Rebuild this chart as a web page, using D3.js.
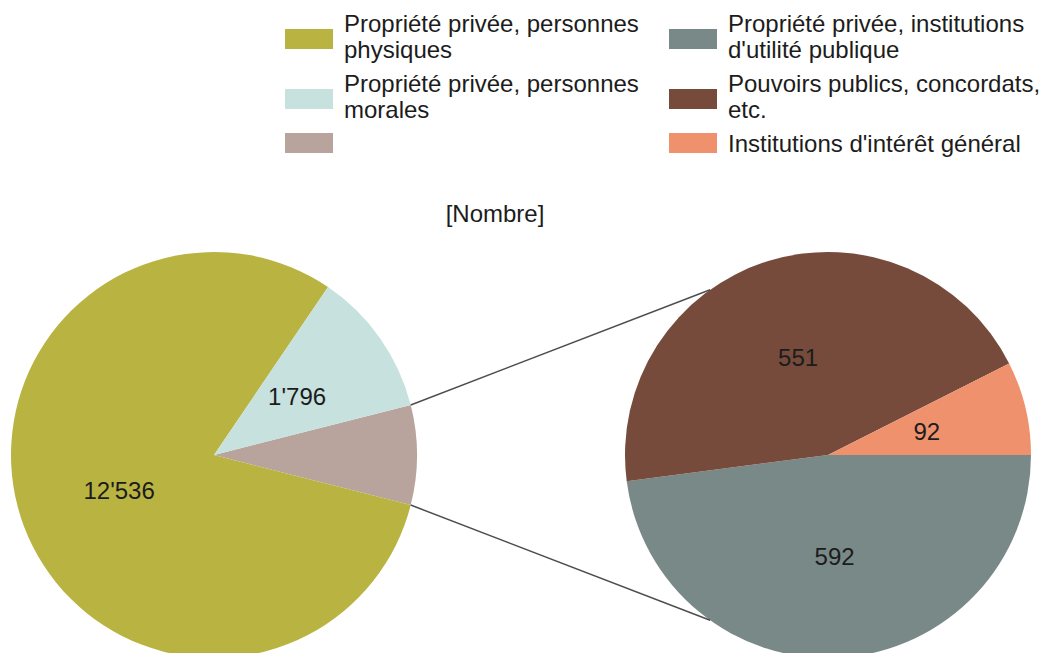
<!DOCTYPE html>
<html>
<head>
<meta charset="utf-8">
<script src="https://cdn.jsdelivr.net/npm/d3@7/dist/d3.min.js"></script>
<style>
	body { margin: 0; background: #fff; }
	text { font-family: "Liberation Sans", Arial, sans-serif; fill: #1c1c1c; }
</style>
</head>
<body>
<svg id="chart" width="1047" height="653"></svg>
<script>
// main pie (last slice is the detailed one, empty label)
var mainLabels = ["Propriété privée, personnes physiques", "Propriété privée, personnes morales", ""];
var mainValues = [12536, 1796];
// detail pie
var subLabels = ["Propriété privée, institutions d'utilité publique", "Pouvoirs publics, concordats, etc.", "Institutions d'intérêt général"];
var subValues = [592, 551, 92];
var mainColors = ["#b9b442", "#c6e1de", "#b9a49d"];
var subColors = ["#798987", "#764b3b", "#f0916e"];
var titleText = "[Nombre]";

var svg = d3.select("#chart"),
	radius = 203,
	leftC = [214, 455],
	rightC = [828, 455];

var locale = d3.formatLocale({decimal: ".", thousands: "'", grouping: [3], currency: ["", ""]});
var fmt = locale.format(",d");

var otherValue = d3.sum(subValues);
var mainData = [{label: mainLabels[2], value: otherValue, color: mainColors[2], other: true}]
	.concat(mainValues.map(function(v, i) {
		return {label: mainLabels[i], value: v, color: mainColors[i]};
	}));
var subData = subValues.map(function(v, i) {
	return {label: subLabels[i], value: v, color: subColors[i]};
});

var mainTotal = otherValue + d3.sum(mainValues);
var otherAngle = otherValue / mainTotal * 2 * Math.PI;
var mainStart = Math.PI / 2 - otherAngle / 2;

var mainPie = d3.pie().sort(null).value(function(d) { return d.value; })
	.startAngle(mainStart).endAngle(mainStart + 2 * Math.PI);
var subPie = d3.pie().sort(null).value(function(d) { return d.value; })
	.startAngle(Math.PI / 2).endAngle(Math.PI / 2 + 2 * Math.PI);

var arc = d3.arc().innerRadius(0).outerRadius(radius);

function drawPie(arcs, center) {
	var g = svg.append("g").attr("transform", "translate(" + center[0] + "," + center[1] + ")");
	g.selectAll("path")
		.data(arcs)
		.enter()
		.append("path")
		.attr("d", arc)
		.attr("fill", function(d) { return d.data.color; });
	g.selectAll("text")
		.data(arcs.filter(function(d) { return !d.data.other; }))
		.enter()
		.append("text")
		.attr("transform", function(d) { return "translate(" + arc.centroid(d) + ")"; })
		.attr("text-anchor", "middle")
		.attr("dy", "0.35em")
		.attr("font-size", "24px")
		.text(function(d) { return fmt(d.value); });
	return g;
}

var mainArcs = mainPie(mainData),
	subArcs = subPie(subData);
drawPie(mainArcs, leftC);
drawPie(subArcs, rightC);

// connector lines (pie-of-pie)
var otherArc = mainArcs[0];
var joinAngle = 35.5 * Math.PI / 180; // from 12 o'clock, mirrored
function pt(c, a) {
	return [c[0] + radius * Math.sin(a), c[1] - radius * Math.cos(a)];
}
var connectors = [
	[pt(leftC, otherArc.startAngle), pt(rightC, -joinAngle)],
	[pt(leftC, otherArc.endAngle), pt(rightC, Math.PI + joinAngle)]
];
svg.selectAll(".connector")
	.data(connectors)
	.enter()
	.append("line")
	.attr("class", "connector")
	.attr("x1", function(d) { return d[0][0]; })
	.attr("y1", function(d) { return d[0][1]; })
	.attr("x2", function(d) { return d[1][0]; })
	.attr("y2", function(d) { return d[1][1]; })
	.attr("stroke", "#4d4d4d")
	.attr("stroke-width", 1.5);

// title
svg.append("text")
	.attr("x", 495)
	.attr("y", 222)
	.attr("text-anchor", "middle")
	.attr("font-size", "24px")
	.text(titleText);

// legend: column 1 = main pie, column 2 = detail pie
var legendCols = [
	{x: 285, items: mainData.slice(1).concat([mainData[0]])},
	{x: 669, items: subData}
];
var lineH = 26, rowGap = 8, wrapW = 315;

legendCols.forEach(function(col) {
	var top = 10;
	col.items.forEach(function(item) {
		var g = svg.append("g").attr("class", "legend-item");
		var t = g.append("text")
			.attr("x", col.x + 59)
			.attr("font-size", "24px");
		var words = item.label.split(" "),
			lines = [],
			line = [];
		var probe = t.append("tspan");
		words.forEach(function(w) {
			if (!w) return;
			line.push(w);
			probe.text(line.join(" "));
			if (probe.node().getComputedTextLength() > wrapW && line.length > 1) {
				line.pop();
				lines.push(line.join(" "));
				line = [w];
			}
		});
		if (line.length) lines.push(line.join(" "));
		probe.remove();
		var n = Math.max(lines.length, 1);
		lines.forEach(function(l, i) {
			t.append("tspan")
				.attr("x", col.x + 59)
				.attr("y", top + 22 + i * lineH)
				.text(l);
		});
		var mid = top + n * lineH / 2 + 3 * (n - 1);
		g.append("rect")
			.attr("x", col.x)
			.attr("y", mid - 10)
			.attr("width", 48)
			.attr("height", 20)
			.attr("fill", item.color);
		top += n * lineH + rowGap;
	});
});
</script>
</body>
</html>
